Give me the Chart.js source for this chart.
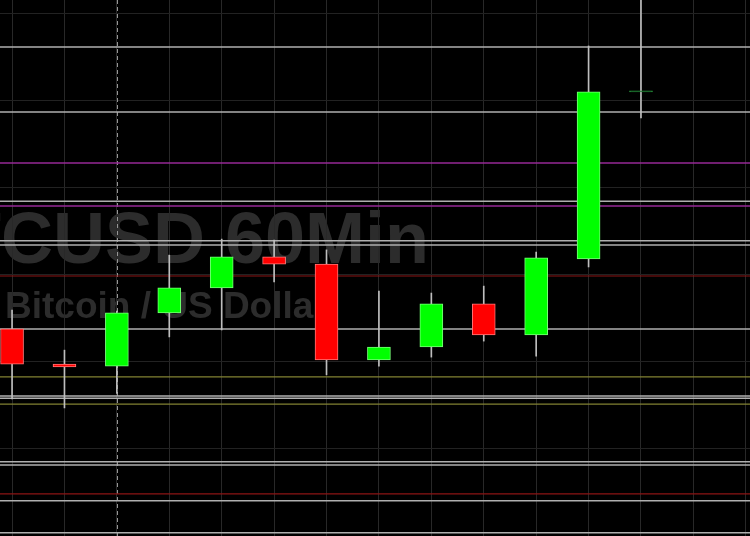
<!DOCTYPE html>
<html>
<head>
<meta charset="utf-8">
<script src="https://cdn.jsdelivr.net/npm/chart.js@4"></script>
<style>
  html, body { margin: 0; padding: 0; background: #000; }
  #wrap { width: 750px; height: 536px; }
</style>
</head>
<body>
<div id="wrap"><canvas id="myChart"></canvas></div>
<script>
// BTCUSD 60 min candles
let opens  = [7109.5, 7099.4, 7098.8, 7114.1, 7121.3, 7130.2, 7128.1, 7100.6, 7104.3, 7116.7, 7107.8, 7129.6, 7177.6];
let closes = [7099.4, 7098.6, 7114.1, 7121.3, 7130.2, 7128.1, 7100.6, 7104.3, 7116.7, 7107.8, 7129.9, 7177.6, 7177.9];
let highs  = [7114.9, 7103.4, 7114.6, 7130.7, 7135.3, 7135.0, 7132.2, 7120.4, 7119.8, 7121.8, 7131.6, 7190.8, 7206.0];
let lows   = [7089.4, 7086.8, 7091.0, 7107.2, 7109.2, 7123.0, 7096.3, 7098.8, 7101.4, 7106.0, 7101.7, 7127.3, 7170.1];

// horizontal levels drawn across the chart
let grayLevels    = [7190.5, 7171.8, 7146.2, 7134.8, 7133.6, 7109.5, 7090.2, 7089.6, 7071.3, 7070.4, 7060.1, 7050.9];
let magentaLevels = [7157.2, 7144.8];
let redLevels     = [7124.7, 7062.1];
let oliveLevels   = [7095.7, 7087.9];

let dashedBar = 2;
let titleText = "BTCUSD 60Min";
let subText = "Bitcoin / US Dollar";

let bodies = [];
let wicks = [];
let bodyColors = [];
let bodyBorders = [];

for (let i = 0; i < opens.length; i++) {
    bodies.push({ x: i, y: [opens[i], closes[i]] });
    wicks.push({ x: i, y: [lows[i], highs[i]] });

    if (Math.abs(closes[i] - opens[i]) < 0.5) {
        bodyColors.push("rgb(30,120,50)");
        bodyBorders.push("rgb(40,150,60)");
    } else if (closes[i] > opens[i]) {
        bodyColors.push("rgb(0,255,0)");
        bodyBorders.push("rgb(120,255,120)");
    } else {
        bodyColors.push("rgb(255,0,0)");
        bodyBorders.push("rgb(255,120,120)");
    }
}

let fondo = {
    id: "fondo",
    beforeDraw(chart) {
        let ctx = chart.ctx;
        ctx.save();
        ctx.fillStyle = "#000";
        ctx.fillRect(0, 0, chart.width, chart.height);

        ctx.fillStyle = "rgb(44,44,44)";
        ctx.textBaseline = "alphabetic";
        ctx.font = "bold 72px 'Liberation Sans', Arial, sans-serif";
        ctx.textAlign = "right";
        ctx.fillText(titleText, 429, 263);

        ctx.font = "bold 37px 'Liberation Sans', Arial, sans-serif";
        ctx.textAlign = "left";
        ctx.fillText(subText, 5, 318);
        ctx.restore();
    }
};

let nivells = {
    id: "nivells",
    beforeDatasetsDraw(chart) {
        let ctx = chart.ctx;
        let area = chart.chartArea;
        let y = chart.scales.y;
        let x = chart.scales.x;

        ctx.save();

        // dashed vertical marker
        let xd = Math.round(x.getPixelForValue(dashedBar)) + 0.5;
        ctx.strokeStyle = "rgb(150,150,150)";
        ctx.lineWidth = 1;
        ctx.setLineDash([4, 3]);
        ctx.beginPath();
        ctx.moveTo(xd, area.top);
        ctx.lineTo(xd, area.bottom);
        ctx.stroke();
        ctx.setLineDash([]);

        let grups = [
            { vals: oliveLevels, color: "rgb(130,130,50)", width: 1.2 },
            { vals: redLevels, color: "rgb(140,20,20)", width: 1.2 },
            { vals: magentaLevels, color: "rgb(150,40,150)", width: 1.5 },
            { vals: grayLevels, color: "rgb(175,175,175)", width: 1.5 }
        ];

        for (let g = 0; g < grups.length; g++) {
            ctx.strokeStyle = grups[g].color;
            ctx.lineWidth = grups[g].width;
            for (let i = 0; i < grups[g].vals.length; i++) {
                let py = y.getPixelForValue(grups[g].vals[i]);
                ctx.beginPath();
                ctx.moveTo(area.left, py);
                ctx.lineTo(area.right, py);
                ctx.stroke();
            }
        }
        ctx.restore();
    }
};

let canvas = document.getElementById("myChart");

let grafic = new Chart(canvas, {
    type: "bar",
    data: {
        datasets: [{
            label: "body",
            data: bodies,
            backgroundColor: bodyColors,
            borderColor: bodyBorders,
            borderWidth: 1,
            borderSkipped: false,
            barThickness: 23,
            grouped: false
        }, {
            label: "wick",
            data: wicks,
            backgroundColor: "rgb(190,190,190)",
            borderWidth: 0,
            barThickness: 1,
            grouped: false
        }]
    },
    options: {
        responsive: true,
        maintainAspectRatio: false,
        animation: false,
        layout: { padding: 0 },
        plugins: {
            legend: { display: false },
            tooltip: { enabled: false }
        },
        scales: {
            x: {
                type: "linear",
                offset: false,
                min: -0.23,
                max: 14.08,
                ticks: { display: false, stepSize: 1, includeBounds: false },
                grid: { color: "rgb(40,40,40)", drawTicks: false, offset: false },
                border: { display: false },
                afterFit: function (scale) { scale.height = 0; }
            },
            y: {
                min: 7050,
                max: 7204,
                ticks: { display: false, stepSize: 25, includeBounds: false },
                grid: { color: "rgb(34,34,34)", drawTicks: false },
                border: { display: false },
                afterFit: function (scale) { scale.width = 0; }
            }
        }
    },
    plugins: [fondo, nivells]
});
</script>
</body>
</html>
